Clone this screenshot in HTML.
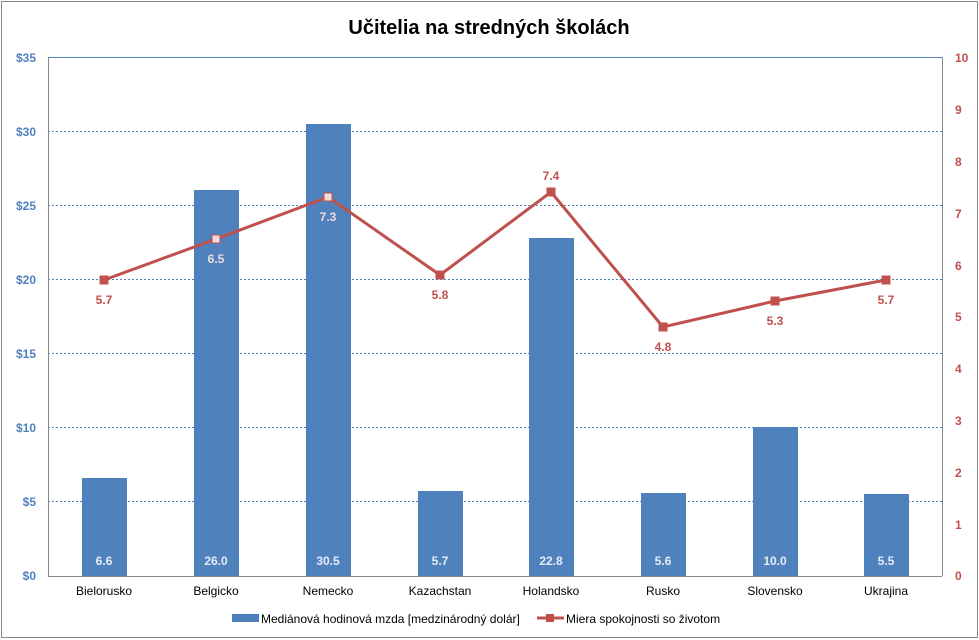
<!DOCTYPE html>
<html><head><meta charset="utf-8"><style>body{margin:0;background:#fff}svg{display:block;font-family:"Liberation Sans",sans-serif}</style></head><body>
<svg width="979" height="640" xmlns="http://www.w3.org/2000/svg">
<rect x="1.5" y="1.5" width="976" height="636" fill="#fff" stroke="#888" stroke-width="1"/>
<text x="489" y="34" text-anchor="middle" font-size="20" font-weight="bold" fill="#000">Učitelia na stredných školách</text>
<g fill="#4f81bd">
<rect x="48" y="57" width="894" height="1"/>
</g>
<g stroke="#4f81bd" stroke-width="1" stroke-dasharray="2,2" shape-rendering="crispEdges">
<line x1="48" x2="942" y1="57.5" y2="57.5"/><line x1="48" x2="942" y1="131.5" y2="131.5"/><line x1="48" x2="942" y1="205.5" y2="205.5"/><line x1="48" x2="942" y1="279.5" y2="279.5"/><line x1="48" x2="942" y1="353.5" y2="353.5"/><line x1="48" x2="942" y1="427.5" y2="427.5"/><line x1="48" x2="942" y1="501.5" y2="501.5"/>
</g>
<g fill="#4f81bd">
<rect x="82" y="478" width="45" height="98"/><rect x="194" y="190" width="45" height="386"/><rect x="306" y="124" width="45" height="452"/><rect x="418" y="491" width="45" height="85"/><rect x="529" y="238" width="45" height="338"/><rect x="641" y="493" width="45" height="83"/><rect x="753" y="427" width="45" height="149"/><rect x="864" y="494" width="45" height="82"/>
</g>
<line x1="48.5" y1="57" x2="48.5" y2="576" stroke="#888"/>
<line x1="48" y1="576.5" x2="942" y2="576.5" stroke="#888"/>
<line x1="942.5" y1="57" x2="942.5" y2="576" stroke="#888"/>
<g font-size="12" font-weight="bold" fill="#4f81bd" text-anchor="end">
<text x="36" y="62">$35</text><text x="36" y="136">$30</text><text x="36" y="210">$25</text><text x="36" y="284">$20</text><text x="36" y="358">$15</text><text x="36" y="432">$10</text><text x="36" y="506">$5</text><text x="36" y="580">$0</text>
</g>
<g font-size="12" font-weight="bold" fill="#c0504d">
<text x="955" y="62">10</text><text x="955" y="114">9</text><text x="955" y="166">8</text><text x="955" y="218">7</text><text x="955" y="270">6</text><text x="955" y="321">5</text><text x="955" y="373">4</text><text x="955" y="425">3</text><text x="955" y="477">2</text><text x="955" y="529">1</text><text x="955" y="580">0</text>
</g>
<g font-size="12" fill="#000" text-anchor="middle">
<text x="104" y="595">Bielorusko</text><text x="216" y="595">Belgicko</text><text x="328" y="595">Nemecko</text><text x="440" y="595">Kazachstan</text><text x="551" y="595">Holandsko</text><text x="663" y="595">Rusko</text><text x="775" y="595">Slovensko</text><text x="886" y="595">Ukrajina</text>
</g>
<g font-size="12" font-weight="bold" fill="#e6ecf5" text-anchor="middle">
<text x="104" y="565">6.6</text><text x="216" y="565">26.0</text><text x="328" y="565">30.5</text><text x="440" y="565">5.7</text><text x="551" y="565">22.8</text><text x="663" y="565">5.6</text><text x="775" y="565">10.0</text><text x="886" y="565">5.5</text>
</g>
<polyline points="104,280 216,239 328,197 440,275 551,192 663,327 775,301 886,280" fill="none" stroke="#c0504d" stroke-width="3"/>
<g fill="#c0504d" stroke="#c0504d" stroke-width="1">
<rect x="100" y="276" width="8" height="8"/><rect x="212" y="235" width="8" height="8" fill="#f2dcdb"/><rect x="324" y="193" width="8" height="8" fill="#f2dcdb"/><rect x="436" y="271" width="8" height="8"/><rect x="547" y="188" width="8" height="8"/><rect x="659" y="323" width="8" height="8"/><rect x="771" y="297" width="8" height="8"/><rect x="882" y="276" width="8" height="8"/>
</g>
<g font-size="12" font-weight="bold" fill="#c0504d" text-anchor="middle">
<text x="104" y="304">5.7</text><text x="440" y="299">5.8</text><text x="551" y="180">7.4</text><text x="663" y="351">4.8</text><text x="775" y="325">5.3</text><text x="886" y="304">5.7</text>
</g>
<g font-size="12" font-weight="bold" fill="#f2dcdb" text-anchor="middle">
<text x="216" y="263">6.5</text><text x="328" y="221">7.3</text>
</g>
<rect x="232" y="614" width="27" height="8" fill="#4f81bd"/>
<text x="261" y="623" font-size="12" fill="#000">Mediánová hodinová mzda [medzinárodný dolár]</text>
<line x1="537" y1="618" x2="564" y2="618" stroke="#c0504d" stroke-width="3"/>
<rect x="546" y="614" width="8" height="8" fill="#c0504d"/>
<text x="566" y="623" font-size="12" fill="#000">Miera spokojnosti so životom</text>
</svg>
</body></html>
